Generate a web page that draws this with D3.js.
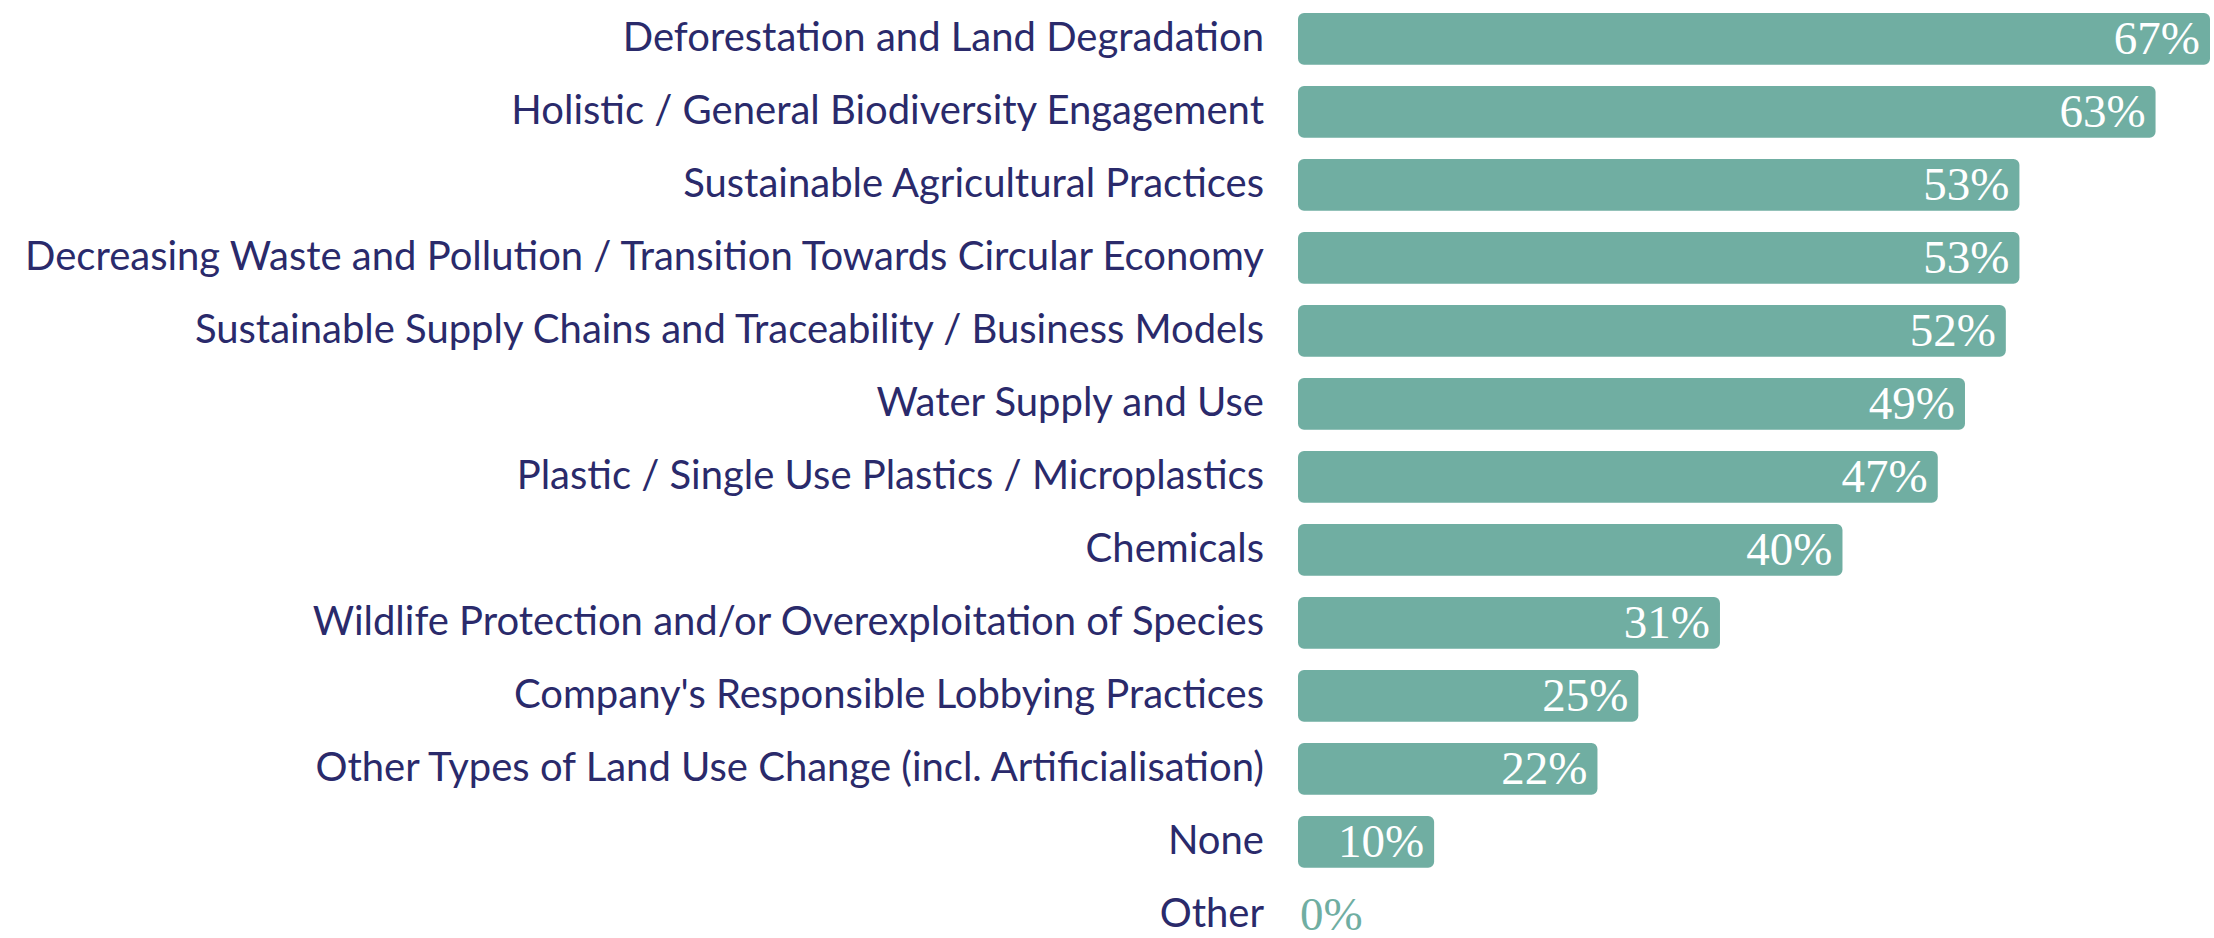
<!DOCTYPE html>
<html>
<head>
<meta charset="utf-8">
<script src="https://cdn.jsdelivr.net/npm/d3@7"></script>
<style>
  body { margin: 0; background: #fff; }
  svg { display: block; }
</style>
</head>
<body>
<div id="content"></div>
<script>
var categories = [
  'Deforestation and Land Degradation',
  'Holistic / General Biodiversity Engagement',
  'Sustainable Agricultural Practices',
  'Decreasing Waste and Pollution / Transition Towards Circular Economy',
  'Sustainable Supply Chains and Traceability / Business Models',
  'Water Supply and Use',
  'Plastic / Single Use Plastics / Microplastics',
  'Chemicals',
  'Wildlife Protection and/or Overexploitation of Species',
  "Company's Responsible Lobbying Practices",
  'Other Types of Land Use Change (incl. Artificialisation)',
  'None',
  'Other'
];
var values = [67, 63, 53, 53, 52, 49, 47, 40, 31, 25, 22, 10, 0];

var width = 2214, height = 938;
var barColor = '#70aea2';
var labelColor = '#2a2a6b';

var svg = d3.select('#content').append('svg')
  .attr('width', width)
  .attr('height', height);

var x = d3.scaleLinear()
  .domain([0, d3.max(values)])
  .range([1298, 2210]);

var step = 73;
var y = d3.scaleBand()
  .domain(categories)
  .range([2.3, 2.3 + step * categories.length])
  .paddingInner(0.29)
  .paddingOuter(0.145);

var data = categories.map(function(c, i){ return {name: c, value: values[i]}; });

// bars
svg.selectAll('rect.bar')
  .data(data.filter(function(d){ return d.value > 0; }))
  .enter().append('rect')
  .attr('class', 'bar')
  .attr('x', x(0))
  .attr('y', function(d){ return y(d.name); })
  .attr('width', function(d){ return x(d.value) - x(0); })
  .attr('height', y.bandwidth())
  .attr('rx', 6)
  .attr('fill', barColor);

// category labels
svg.selectAll('text.cat')
  .data(data)
  .enter().append('text')
  .attr('class', 'cat')
  .attr('x', x(0) - 34)
  .attr('y', function(d){ return y(d.name) + y.bandwidth() / 2; })
  .attr('dy', '0.3em')
  .attr('text-anchor', 'end')
  .attr('font-family', 'Lato, sans-serif')
  .attr('font-size', 40)
  .attr('fill', labelColor)
  .text(function(d){ return d.name; });

// value labels
svg.selectAll('text.val')
  .data(data)
  .enter().append('text')
  .attr('class', 'val')
  .attr('x', function(d){ return d.value > 0 ? x(d.value) - 10 : x(0) + 2; })
  .attr('y', function(d){ return y(d.name) + y.bandwidth() / 2; })
  .attr('dy', '0.33em')
  .attr('text-anchor', function(d){ return d.value > 0 ? 'end' : 'start'; })
  .attr('font-family', '"Liberation Serif", serif')
  .attr('font-size', 47)
  .attr('fill', function(d){ return d.value > 0 ? '#fff' : barColor; })
  .text(function(d){ return d.value + '%'; });
</script>
</body>
</html>
